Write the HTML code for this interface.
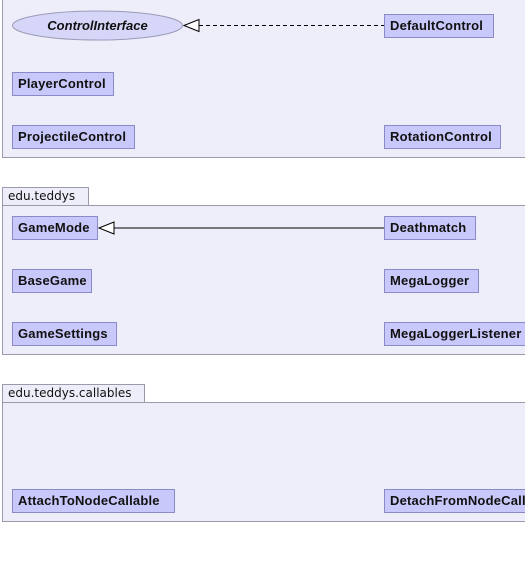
<!DOCTYPE html>
<html><head><style>
body{margin:0;width:525px;height:575px;background:#fff;position:relative;overflow:hidden;font-family:"DejaVu Sans","Liberation Sans",sans-serif;}
.p{position:absolute;background:#eeeefa;border:1px solid #9a9aab;box-sizing:border-box;}
.t{position:absolute;background:#eeeefa;border:1px solid #9a9aab;box-sizing:border-box;font-size:12px;line-height:17px;padding-left:5px;color:#111;}
.b{position:absolute;background:#c8c8fa;border:1px solid #8a8ac8;box-sizing:border-box;height:24px;line-height:22px;padding-left:5px;font-weight:bold;font-size:13px;font-family:"Liberation Sans",sans-serif;color:#111;white-space:nowrap;overflow:hidden;letter-spacing:0.2px}
</style></head><body>
<div class="p" style="left:2px;top:-2px;width:530px;height:160px"></div>
<div class="t" style="left:2px;top:187px;width:87px;height:19px">edu.teddys</div>
<div class="p" style="left:2px;top:205px;width:530px;height:150px"></div>
<div class="t" style="left:2px;top:384px;width:143px;height:19px">edu.teddys.callables</div>
<div class="p" style="left:2px;top:402px;width:530px;height:120px"></div>
<svg style="position:absolute;left:0;top:0" width="525" height="575">
<ellipse cx="97.5" cy="25.5" rx="85" ry="14.5" fill="#d6d6f8" stroke="#9a9ab8"/>
<text x="97.5" y="30" text-anchor="middle" font-family="Liberation Sans,sans-serif" font-weight="bold" font-style="italic" font-size="13" fill="#111">ControlInterface</text>
<line x1="199" y1="25.5" x2="384" y2="25.5" stroke="#000" stroke-dasharray="4,3"/>
<polygon points="184,25.5 199,19.5 199,31.5" fill="#fff" stroke="#000"/>
<line x1="114" y1="228" x2="384" y2="228" stroke="#000"/>
<polygon points="99,228 114,222 114,234" fill="#fff" stroke="#000"/>
</svg>
<div class="b" style="left:384px;top:14px;width:110px">DefaultControl</div>
<div class="b" style="left:12px;top:72px;width:102px">PlayerControl</div>
<div class="b" style="left:12px;top:125px;width:123px">ProjectileControl</div>
<div class="b" style="left:384px;top:125px;width:117px">RotationControl</div>
<div class="b" style="left:12px;top:216px;width:86px">GameMode</div>
<div class="b" style="left:384px;top:216px;width:92px">Deathmatch</div>
<div class="b" style="left:12px;top:269px;width:80px">BaseGame</div>
<div class="b" style="left:384px;top:269px;width:95px">MegaLogger</div>
<div class="b" style="left:12px;top:322px;width:105px">GameSettings</div>
<div class="b" style="left:384px;top:322px;width:150px">MegaLoggerListener</div>
<div class="b" style="left:12px;top:489px;width:163px">AttachToNodeCallable</div>
<div class="b" style="left:384px;top:489px;width:160px">DetachFromNodeCallable</div>
</body></html>
